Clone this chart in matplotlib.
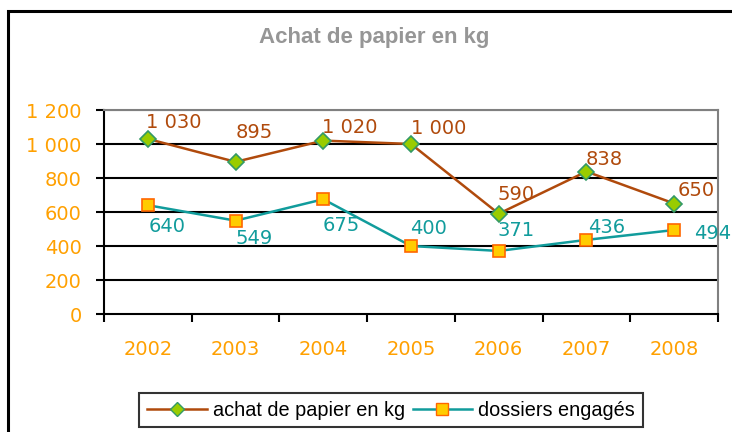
import numpy as np
import matplotlib.pyplot as plt
from matplotlib.patches import Rectangle
from matplotlib.lines import Line2D

# Data
years = ['2002', '2003', '2004', '2005', '2006', '2007', '2008']
achat_papier = [1030, 895, 1020, 1000, 590, 838, 650]
dossiers = [640, 549, 675, 400, 371, 436, 494]
y_ticks = [0, 200, 400, 600, 800, 1000, 1200]
y_tick_labels = ['0', '200', '400', '600', '800', '1 000', '1 200']

# label offsets in pixels (dx, dy), like Excel placed them
achat_offsets = [(-2, 16), (0, 29), (-1, 13), (0, 15), (-1, 19), (-1, 12), (3, 13)]
dossiers_offsets = [(1, -21), (0, -18), (-1, -26), (-1, 18), (-1, 20), (2, 12), (20, -3)]

BROWN = '#B04A0C'
TEAL = '#119C9C'
ORANGE = '#FFA000'


def fmt(v):
    return f"{v:,}".replace(',', ' ')


def main():
    fig = plt.figure(figsize=(7.32, 4.32), dpi=100)
    fig.patch.set_facecolor('white')

    # outer chart frame (goes off the right and bottom edges)
    frame = Rectangle((8 / 732, -0.05), 1.0, 1 - 11 / 432 + 0.05, transform=fig.transFigure,
                      fill=False, edgecolor='black', linewidth=2.2, clip_on=False)
    fig.patches.append(frame)

    ax = fig.add_axes([104 / 732, 1 - 314 / 432, (718 - 104) / 732, (314 - 110) / 432])
    x = np.arange(len(years))

    ax.plot(x, achat_papier, color=BROWN, lw=1.8, marker='D', ms=8,
            mfc='#99CC00', mec='#339966', mew=1.2, zorder=4)
    ax.plot(x, dossiers, color=TEAL, lw=1.8, marker='s', ms=9,
            mfc='#FFCC00', mec='#FF6600', mew=1.2, zorder=4)

    for xi, v, (dx, dy) in zip(x, achat_papier, achat_offsets):
        ax.annotate(fmt(v), (xi, v), xytext=(dx, dy), textcoords='offset pixels',
                    ha='left', va='center', color=BROWN, fontsize=14, zorder=5)
    for xi, v, (dx, dy) in zip(x, dossiers, dossiers_offsets):
        ax.annotate(fmt(v), (xi, v), xytext=(dx, dy), textcoords='offset pixels',
                    ha='left', va='center', color=TEAL, fontsize=14, zorder=5,
                    annotation_clip=False)

    ax.set_xlim(-0.5, len(years) - 0.5)
    ax.set_ylim(0, 1200)
    ax.set_yticks(y_ticks)
    ax.set_yticklabels(y_tick_labels)
    ax.set_xticks(x)
    ax.set_xticklabels(years)
    ax.set_xticks(np.arange(-0.5, len(years), 1.0), minor=True)

    for yv in y_ticks[1:-1]:
        ax.axhline(yv, color='black', lw=1.5, zorder=1)
    ax.axhline(1200, color='#808080', lw=1.5, zorder=1)

    ax.tick_params(axis='x', which='major', length=0, pad=19, labelsize=14, labelcolor=ORANGE)
    ax.tick_params(axis='x', which='minor', length=6, width=1.5, color='black')
    ax.tick_params(axis='y', length=6, width=1.5, color='black', pad=10,
                   labelsize=14, labelcolor=ORANGE)

    ax.spines['left'].set_color('black')
    ax.spines['left'].set_linewidth(1.5)
    ax.spines['bottom'].set_color('black')
    ax.spines['bottom'].set_linewidth(1.5)
    ax.spines['top'].set_color('#808080')
    ax.spines['top'].set_linewidth(1.5)
    ax.spines['right'].set_color('#808080')
    ax.spines['right'].set_linewidth(1.5)

    fig.text(374 / 732, 1 - 38 / 432, 'Achat de papier en kg', ha='center', va='center',
             color='#969696', fontsize=16, fontweight='bold',
             family=['Liberation Sans Narrow', 'Liberation Sans', 'DejaVu Sans'])

    handles = [
        Line2D([], [], color=BROWN, lw=1.8, marker='D', ms=7, mfc='#99CC00', mec='#339966'),
        Line2D([], [], color=TEAL, lw=1.8, marker='s', ms=8, mfc='#FFCC00', mec='#FF6600'),
    ]
    leg = fig.legend(handles, ['achat de papier en kg', 'dossiers engagés'],
                     loc='center', bbox_to_anchor=(391 / 732, 1 - 410 / 432), ncol=2,
                     frameon=True, fancybox=False, edgecolor='black', handlelength=3.0,
                     handletextpad=0.3, columnspacing=0.4, borderpad=0.4,
                     prop={'family': 'Liberation Sans', 'size': 14.3})
    leg.get_frame().set_linewidth(1.5)

    fig.savefig('out.png', dpi=100, facecolor='white')
    plt.close(fig)


if __name__ == "__main__":
    main()
